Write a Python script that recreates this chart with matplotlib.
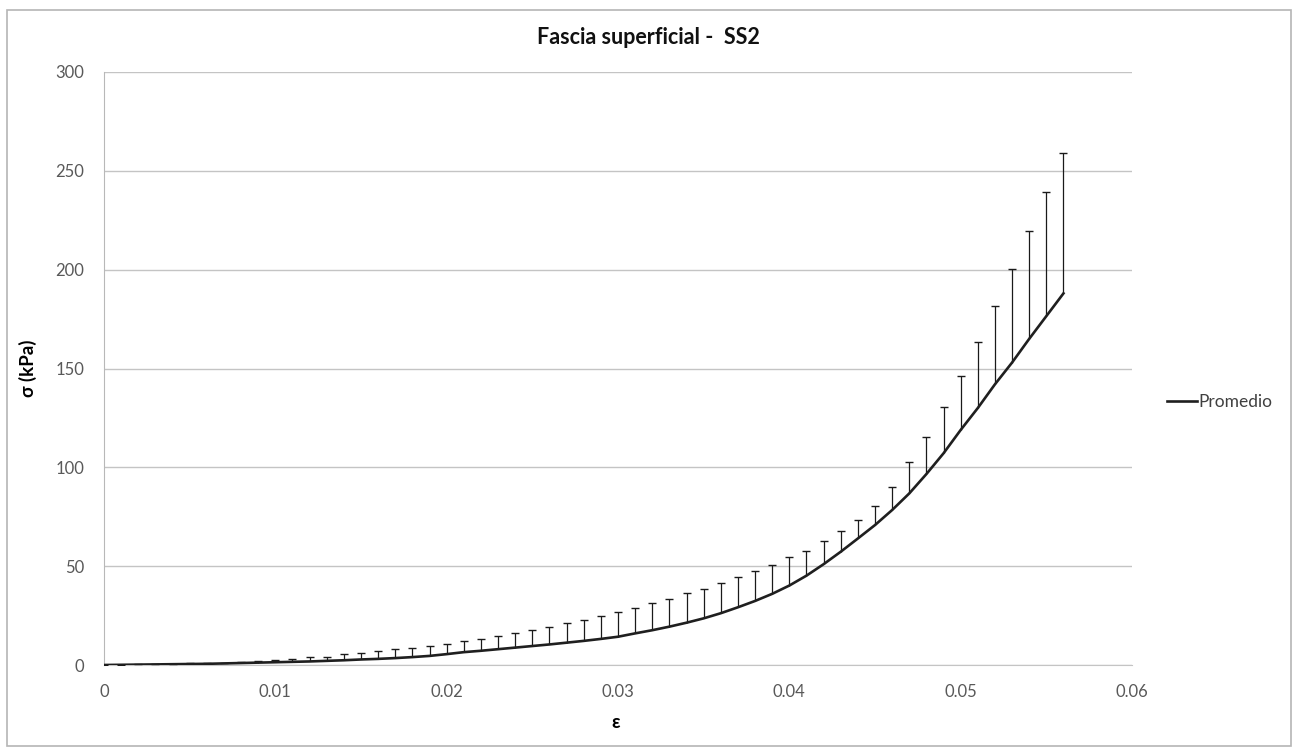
import matplotlib
matplotlib.use("Agg")
import matplotlib.pyplot as plt
from matplotlib.patches import Rectangle
import numpy as np

# ---- data ----
strain = [i / 1000 for i in range(57)]  # 0 .. 0.056
mean_kpa = [0, 0.1, 0.2, 0.3, 0.4, 0.5, 0.6, 0.8, 1.0, 1.2,
            1.4, 1.6, 1.8, 2.1, 2.4, 2.8, 3.1, 3.5, 4.0, 4.6,
            5.5, 6.5, 7.2, 8.0, 8.8, 9.6, 10.4, 11.3, 12.2, 13.2,
            14.3, 16.0, 17.6, 19.4, 21.4, 23.6, 26.2, 29.2, 32.4, 36.0,
            40.2, 45.2, 51.0, 57.3, 64.0, 70.8, 78.4, 86.8, 96.6, 107.1,
            118.9, 130.0, 142.0, 153.0, 165.0, 176.5, 188.0]
sd_kpa = [0, 0.1, 0.1, 0.2, 0.2, 0.3, 0.4, 0.4, 0.5, 1.0,
          1.3, 1.4, 2.2, 2.1, 3.2, 3.4, 3.8, 4.4, 4.8, 4.9,
          5.1, 5.6, 6.0, 6.7, 7.2, 7.9, 8.8, 9.8, 10.5, 11.7,
          12.3, 13.0, 13.8, 14.2, 15.1, 15.1, 15.4, 15.4, 15.2, 14.6,
          14.3, 12.6, 11.9, 10.6, 9.3, 9.8, 11.8, 15.7, 18.9, 23.2,
          27.1, 33.5, 39.6, 47.3, 54.5, 62.8, 70.8]
x_ticks = [0, 0.01, 0.02, 0.03, 0.04, 0.05, 0.06]
x_tick_labels = ["0", "0.01", "0.02", "0.03", "0.04", "0.05", "0.06"]
y_ticks = [0, 50, 100, 150, 200, 250, 300]
title = "Fascia superficial -  SS2"
series_name = "Promedio"

plt.rcParams['font.family'] = ['Lato', 'DejaVu Sans']

fig = plt.figure(figsize=(12.95, 7.47), dpi=100)
ax = fig.add_axes([104/1295, 82/747, (1132-104)/1295, (665-72)/747])

# outer chart border
fig.patches.append(Rectangle((7/1295, 1/747), (1291-7)/1295, (736)/747,
                             transform=fig.transFigure, fill=False,
                             edgecolor='#b5b5b5', linewidth=1.2))

lower = np.zeros(len(sd_kpa))
eb = ax.errorbar(strain, mean_kpa, yerr=[lower, sd_kpa], fmt='none',
                 ecolor='#1a1a1a', elinewidth=0.9, capsize=3, capthick=1.0, zorder=3)
# Only the plus-direction cap is shown (hide the cap sitting on the mean)
for cl in eb[1]:
    yd = np.asarray(cl.get_ydata(), dtype=float)
    if np.allclose(yd, np.asarray(mean_kpa, dtype=float)):
        cl.set_visible(False)

ax.plot(strain, mean_kpa, color='#1f1f1f', linewidth=1.9, label=series_name, zorder=4)

ax.set_xlim(0, 0.06)
ax.set_ylim(0, 300)
ax.set_xticks(x_ticks)
ax.set_xticklabels(x_tick_labels)
ax.set_yticks(y_ticks)
ax.tick_params(axis='both', length=0, labelsize=12, labelcolor='#595959')
ax.tick_params(axis='x', pad=14)
ax.tick_params(axis='y', pad=14)

ax.grid(axis='y', color='#c4c4c4', linewidth=1.0)
ax.set_axisbelow(True)
for s in ['top', 'right']:
    ax.spines[s].set_visible(False)
ax.spines['left'].set_color('#b8b8b8')
ax.spines['bottom'].set_color('#c4c4c4')

fig.text(648/1295, 1 - 38/747, title, fontsize=15.5, fontweight='bold',
         ha='center', va='center', color='#111111')
ax.set_xlabel("ε", fontsize=13.5, fontweight='bold')
ax.xaxis.set_label_coords((616-104)/1028, -(714-665)/593)
ax.set_ylabel("σ (kPa)", fontsize=13.5, fontweight='bold')
ax.yaxis.set_label_coords((37-104)/1028, 0.5)

leg = ax.legend(loc='center left', bbox_to_anchor=(1.0185, 0.443), frameon=False,
                fontsize=12.5, handlelength=1.75, handletextpad=0.1)
for t in leg.get_texts():
    t.set_color('#404040')

fig.savefig("out.png", dpi=100)
